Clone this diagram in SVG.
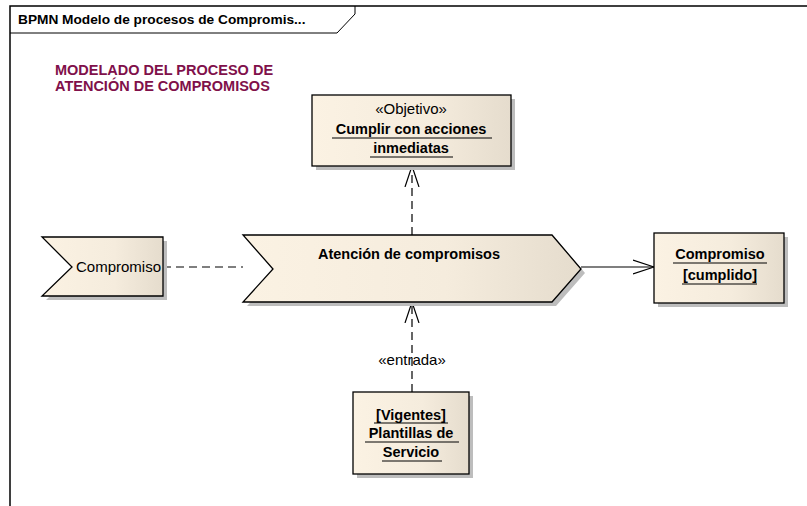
<svg xmlns="http://www.w3.org/2000/svg" width="807" height="506" viewBox="0 0 807 506">
<defs>
<linearGradient id="fill" x1="0" y1="0" x2="1" y2="0">
<stop offset="0" stop-color="#FBF2E3"/>
<stop offset="0.6" stop-color="#F5ECDD"/>
<stop offset="1" stop-color="#E5DCCD"/>
</linearGradient>
<marker id="open" viewBox="0 0 22 16" refX="21" refY="8" markerWidth="22" markerHeight="16" markerUnits="userSpaceOnUse" orient="auto">
<path d="M0,1 L21,8 L0,15" fill="none" stroke="#000" stroke-width="1.2"/>
</marker>
</defs>
<style>
.frame{fill:none;stroke:#000;stroke-width:1.5}
.shape{fill:url(#fill);stroke:#000;stroke-width:1.3}
.shadow{fill:#BDBDBD;stroke:none}
.t{font-family:"Liberation Sans",Arial,sans-serif;font-size:15px;fill:#000}
.b{font-weight:bold;font-size:14.5px}
.u{stroke:#000;stroke-width:1}
.conn{fill:none;stroke:#000;stroke-width:1.2}
.dash{stroke-dasharray:8,5}
</style>
<rect width="807" height="506" fill="#fff"/>
<g id="frame">
<path class="frame" d="M10,506 V6 H807"/>
<path d="M10,33 H337 L355,14 V6" fill="none" stroke="#000" stroke-width="1"/>
<text class="t b" x="18" y="24" style="font-size:13.7px">BPMN Modelo de procesos de Compromis...</text>
</g>
<g id="title">
<text class="t b" x="55" y="75" style="fill:#80104A">MODELADO DEL PROCESO DE</text>
<text class="t b" x="55" y="91" style="fill:#80104A">ATENCIÓN DE COMPROMISOS</text>
</g>
<g id="connectors">
<line class="conn dash" x1="163" y1="267" x2="243" y2="267"/>
<line class="conn" x1="581" y1="267" x2="654" y2="267" marker-end="url(#open)"/>
<line class="conn dash" x1="412" y1="235" x2="412" y2="166" marker-end="url(#open)"/>
<line class="conn dash" x1="412" y1="392" x2="412" y2="302" marker-end="url(#open)"/>
<text class="t" x="412" y="365" text-anchor="middle">«entrada»</text>
</g>
<g id="objetivo">
<rect class="shadow" x="316" y="99" width="199" height="71"/>
<rect class="shape" x="312" y="95" width="199" height="71"/>
<text class="t" x="411" y="114" text-anchor="middle">«Objetivo»</text>
<text class="t b" x="411" y="134" text-anchor="middle">Cumplir con acciones</text>
<line class="u" x1="332" y1="138" x2="492" y2="138"/>
<text class="t b" x="411" y="153" text-anchor="middle">inmediatas</text>
<line class="u" x1="370" y1="157" x2="453" y2="157"/>
</g>
<g id="compromiso-evento">
<path class="shadow" d="M46,241 H167 V300 H46 L76,271 Z"/>
<path class="shape" d="M42,237 H163 V296 H42 L72,267 Z"/>
<text class="t" x="76" y="272">Compromiso</text>
</g>
<g id="atencion">
<path class="shadow" d="M247,239 H556 L585,273 L556,306 H247 L277,273 Z"/>
<path class="shape" d="M243,235 H552 L581,269 L552,302 H243 L273,269 Z"/>
<text class="t b" x="409" y="259" text-anchor="middle">Atención de compromisos</text>
</g>
<g id="compromiso-cumplido">
<rect class="shadow" x="658" y="237" width="130" height="70"/>
<rect class="shape" x="654" y="233" width="130" height="70"/>
<text class="t b" x="720" y="259" text-anchor="middle">Compromiso</text>
<line class="u" x1="673" y1="263" x2="767" y2="263"/>
<text class="t b" x="720" y="280" text-anchor="middle">[cumplido]</text>
<line class="u" x1="682" y1="284" x2="757" y2="284"/>
</g>
<g id="plantillas">
<rect class="shadow" x="357" y="396" width="116" height="82"/>
<rect class="shape" x="353" y="392" width="116" height="82"/>
<text class="t b" x="411" y="420" text-anchor="middle">[Vigentes]</text>
<line class="u" x1="374" y1="423" x2="448" y2="423"/>
<text class="t b" x="411" y="438" text-anchor="middle">Plantillas de</text>
<line class="u" x1="365" y1="442" x2="459" y2="442"/>
<text class="t b" x="411" y="457" text-anchor="middle">Servicio</text>
<line class="u" x1="382" y1="461" x2="442" y2="461"/>
</g>
</svg>
